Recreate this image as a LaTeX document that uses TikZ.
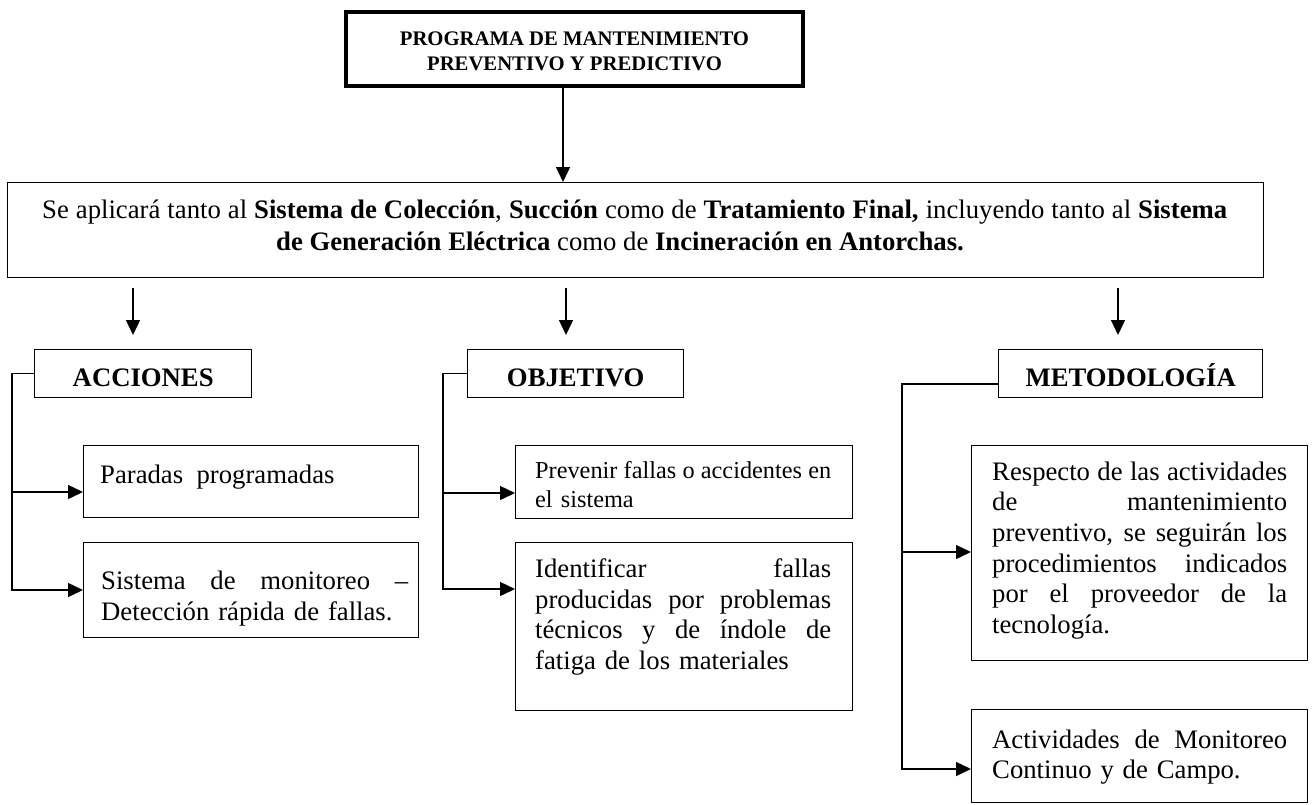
\documentclass[tikz,border=0pt]{standalone}
\usepackage{fontspec}
\setmainfont{Liberation Serif}
\usetikzlibrary{arrows.meta}
\setlength\parindent{0pt}
\newcommand\myTS{\rule{0pt}{22pt}}
\newcommand\jline[2]{\makebox[#1][s]{\spaceskip=0pt\xspaceskip=0pt #2}}
\begin{document}
\begin{tikzpicture}[x=1pt,y=-1pt,
  box/.style={draw=black, line width=1.4pt, rectangle, inner sep=0pt, anchor=north west},
  hbox/.style={box, minimum height=48pt, font=\fontsize{26.7}{30}\selectfont\bfseries, text height=26pt, text depth=0pt},
  txt/.style={anchor=north west, inner sep=0pt, align=left, font=\fontsize{26.7}{30.8}\selectfont},
  arr/.style={line width=1.4pt, -{Triangle[length=15pt,width=14pt]}},
]
\useasboundingbox (0,0) rectangle (1312,804);

% title
\node[box, line width=3.5pt, anchor=center, minimum width=457pt, minimum height=74pt,
      align=center, font=\fontsize{20.7}{25}\selectfont\bfseries] (title) at (574.5,49)
      {\rule{0pt}{18.7pt}PROGRAMA DE MANTENIMIENTO\\PREVENTIVO Y PREDICTIVO};

% wide box
\node[box, minimum width=1256pt, minimum height=95pt] (wide) at (7,182) {};
\node[anchor=base west, inner sep=0pt, font=\fontsize{26.7}{30.8}\selectfont] (wt1) at (42,218)
  {\makebox[1185pt][s]{Se aplicará tanto al \textbf{Sistema de Colección}, \textbf{Succión} como de \textbf{Tratamiento Final,} incluyendo tanto al \textbf{Sistema}}};
\node[anchor=base west, inner sep=0pt, font=\fontsize{26.7}{30.8}\selectfont] (wt2) at (276,250)
  {\textbf{de Generación Eléctrica} como de \textbf{Incineración en Antorchas.}};

% headers
\node[hbox, minimum width=217pt] (acc) at (34,349) {ACCIONES};
\node[hbox, minimum width=216pt] (obj) at (467,349) {OBJETIVO};
\node[hbox, minimum width=264pt] (met) at (998,349) {METODOLOGÍA};

% boxes
\node[box, minimum width=335pt, minimum height=72pt] (par) at (83,445) {};
\node[box, minimum width=335pt, minimum height=95pt] (mon) at (83,542) {};
\node[box, minimum width=337pt, minimum height=73pt] (prev) at (515,445) {};
\node[box, minimum width=337pt, minimum height=168pt] (ident) at (515,542) {};
\node[box, minimum width=336pt, minimum height=215pt] (resp) at (971,445) {};
\node[box, minimum width=336pt, minimum height=93pt] (act) at (971,709) {};

% texts
\node[txt] (parT) at (100,461) {\myTS Paradas\ \ programadas};
\node[txt, text width=308pt] (monT) at (101,567)
  {\myTS\jline{307pt}{Sistema de monitoreo –}\\Detección rápida de fallas.};
\node[txt, text width=298pt, font=\fontsize{24.3}{29}\selectfont] (prevT) at (535,456)
  {\myTS\jline{296pt}{Prevenir fallas o accidentes en}\\el sistema};
\node[txt, text width=298pt] (identT) at (535,555)
  {\myTS\jline{296pt}{Identificar fallas}\\\jline{296pt}{producidas por problemas}\\\jline{296pt}{técnicos y de índole de}\\fatiga de los materiales};
\node[txt, text width=297pt, font=\fontsize{26.7}{30.6}\selectfont] (respT) at (992,458)
  {\myTS\jline{295pt}{Respecto de las actividades}\\\jline{295pt}{de mantenimiento}\\\jline{295pt}{preventivo, se seguirán los}\\\jline{295pt}{procedimientos indicados}\\\jline{295pt}{por el proveedor de la}\\tecnología.};
\node[txt, text width=297pt, font=\fontsize{26.7}{30}\selectfont] (actT) at (992,726)
  {\myTS\jline{295pt}{Actividades de Monitoreo}\\Continuo y de Campo.};

% arrows top
\coordinate (ax) at (563,0);
\draw[arr] (title.south -| ax) -- (wide.north -| ax);
\coordinate (d1s) at (133,288); \coordinate (d1e) at (133,335);
\coordinate (d2s) at (566,288); \coordinate (d2e) at (566,335);
\coordinate (d3s) at (1118,288); \coordinate (d3e) at (1118,335);
\draw[arr] (d1s) -- (d1e);
\draw[arr] (d2s) -- (d2e);
\draw[arr] (d3s) -- (d3e);

% brackets
\coordinate (accM) at (12,492); \coordinate (accV) at (12,590);
\draw[arr] (acc.west) -| (accV) -- (accV -| mon.west);
\draw[arr] (accM) -- (accM -| par.west);

\coordinate (objM) at (443,493); \coordinate (objV) at (443,589);
\draw[arr] (obj.west) -| (objV) -- (objV -| ident.west);
\draw[arr] (objM) -- (objM -| prev.west);

\coordinate (metT) at (902,384); \coordinate (metM) at (902,552); \coordinate (metV) at (902,769);
\draw[arr] (met.west |- metT) -- (metT) -- (metV) -- (metV -| act.west);
\draw[arr] (metM) -- (metM -| resp.west);
\end{tikzpicture}
\end{document}
